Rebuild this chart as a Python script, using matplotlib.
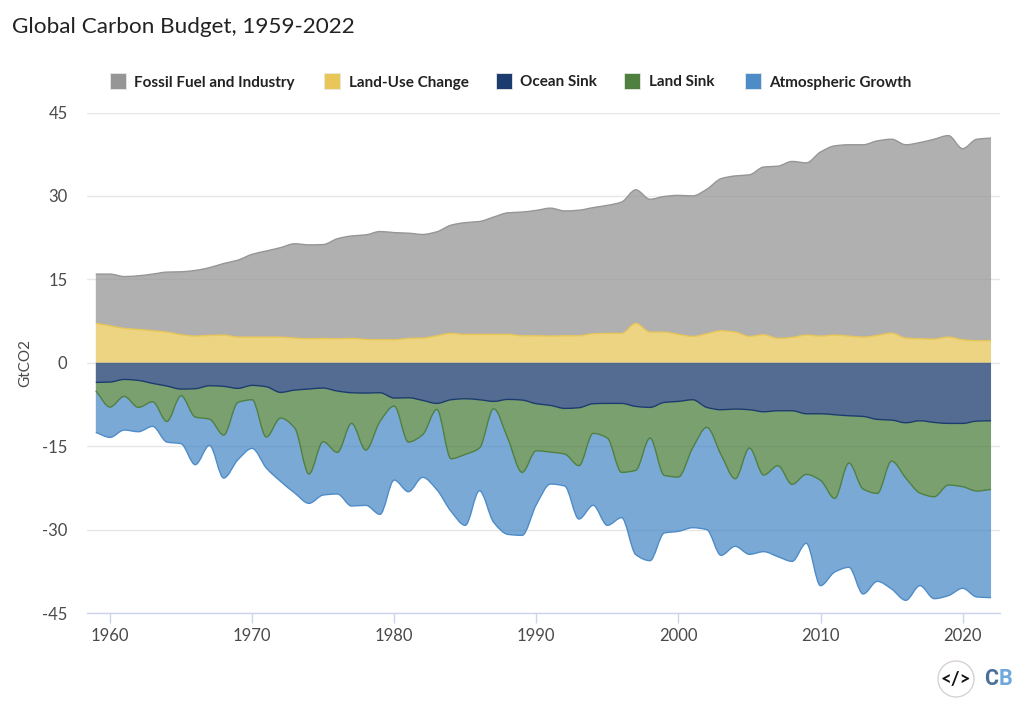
import numpy as np
import matplotlib
matplotlib.use('Agg')
import matplotlib.pyplot as plt
from matplotlib.path import Path
from matplotlib.patches import PathPatch, Rectangle, Circle

# stacked edges, GtCO2
years = list(range(1959, 2023))

fossil_top = [15.94, 15.94, 15.5, 15.64, 15.94, 16.3, 16.36, 16.6, 17.1, 17.85, 18.45, 19.5, 20.1, 20.7, 21.4, 21.2,
              21.25, 22.3, 22.8, 23.0, 23.6, 23.4, 23.3, 23.07, 23.55, 24.74, 25.2, 25.4, 26.2, 26.96, 27.1, 27.4,
              27.8, 27.3, 27.43, 27.9, 28.3, 28.9, 31.1, 29.4, 29.9, 30.1, 30.0, 31.2, 33.1, 33.6, 33.8, 35.2,
              35.35, 36.2, 35.95, 37.9, 39.0, 39.2, 39.2, 39.9, 40.2, 39.2, 39.6, 40.2, 40.85, 38.5, 40.2, 40.4]

landuse_top = [7.07, 6.65, 6.17, 5.99, 5.75, 5.51, 5.03, 4.79, 4.91, 4.97, 4.61, 4.61, 4.61, 4.61, 4.43, 4.31,
               4.37, 4.31, 4.37, 4.19, 4.13, 4.13, 4.37, 4.43, 4.85, 5.27, 5.09, 5.09, 5.09, 5.09, 4.85, 4.85,
               4.79, 4.85, 4.85, 5.21, 5.27, 5.27, 7.07, 5.51, 5.51, 5.09, 4.73, 5.21, 5.75, 5.51, 4.73, 5.03,
               4.37, 4.55, 4.97, 4.79, 4.97, 4.79, 4.61, 4.91, 5.33, 4.43, 4.31, 4.25, 4.61, 4.13, 3.95, 3.95]

ocean_edge = [-3.53, -3.47, -3.0, -3.18, -3.71, -4.19, -4.73, -4.67, -4.13, -4.25, -4.61, -4.07, -4.31, -5.33, -4.91, -4.73,
              -4.55, -5.09, -5.39, -5.45, -5.39, -6.35, -6.29, -6.77, -7.31, -6.65, -6.47, -6.65, -6.95, -6.59, -6.71, -7.37,
              -7.67, -8.21, -8.09, -7.37, -7.31, -7.31, -7.85, -8.03, -7.13, -6.95, -6.65, -8.03, -8.45, -8.33, -8.45, -8.81,
              -8.63, -8.63, -9.17, -9.17, -9.35, -9.53, -9.65, -10.19, -10.31, -10.79, -10.43, -10.73, -10.91, -10.91, -10.49, -10.43]

land_edge = [-5.03, -7.97, -6.05, -8.03, -7.01, -10.55, -5.93, -9.77, -10.13, -13.0, -7.13, -6.65, -13.36, -9.95, -11.74, -20.0,
             -14.2, -16.12, -10.9, -15.7, -10.55, -7.79, -14.26, -12.94, -8.39, -17.26, -16.48, -15.34, -8.27, -13.66, -19.71, -15.82,
             -16.06, -16.42, -18.51, -12.7, -13.54, -19.71, -19.35, -13.54, -20.25, -20.55, -15.34, -11.62, -16.54, -20.85, -15.34, -20.19,
             -18.51, -21.87, -20.07, -21.15, -24.39, -18.03, -22.71, -23.49, -17.68, -20.73, -23.43, -24.09, -21.99, -22.29, -23.07, -22.77]

atmos_edge = [-12.52, -13.42, -12.1, -12.4, -11.44, -14.26, -14.56, -18.33, -14.86, -20.73, -17.44, -15.4, -18.93, -21.33, -23.43, -25.28,
              -23.79, -23.6, -25.76, -25.64, -27.26, -21.09, -23.19, -20.61, -22.83, -26.72, -29.24, -23.01, -28.7, -30.86, -31.04, -25.52,
              -21.81, -22.17, -28.1, -25.64, -29.24, -27.86, -34.51, -35.59, -30.62, -30.32, -29.66, -30.02, -34.63, -33.01, -34.45, -33.97,
              -34.87, -35.71, -32.47, -40.08, -37.63, -36.79, -41.58, -39.31, -40.68, -42.72, -40.08, -42.42, -41.88, -40.56, -42.12, -42.24]

baseline = [0.0] * len(years)

names = ['Fossil Fuel and Industry', 'Land-Use Change', 'Ocean Sink', 'Land Sink', 'Atmospheric Growth']
colors = ['#969696', '#E8C658', '#1C3B6E', '#4F8040', '#4E8CC8']
tops = [fossil_top, landuse_top, ocean_edge, land_edge, atmos_edge]
bottoms = [landuse_top, baseline, baseline, ocean_edge, land_edge]

ytick_values = [-45, -30, -15, 0, 15, 30, 45]
xtick_values = [1960, 1970, 1980, 1990, 2000, 2010, 2020]

W, H = 1024, 706
plt.rcParams['font.family'] = ['Lato', 'DejaVu Sans']
plt.rcParams['axes.unicode_minus'] = False


# monotone bezier through the points, so peaks stay flat and do not overshoot
def curve(x, y):
    x = np.asarray(x, float)
    y = np.asarray(y, float)
    d = np.diff(y) / np.diff(x)
    m = np.zeros(len(x))
    m[0] = d[0]
    m[-1] = d[-1]
    for i in range(1, len(x) - 1):
        if d[i - 1] * d[i] > 0:
            m[i] = 2 * d[i - 1] * d[i] / (d[i - 1] + d[i])
    verts = [(x[0], y[0])]
    for i in range(len(x) - 1):
        h = (x[i + 1] - x[i]) / 3
        verts.append((x[i] + h, y[i] + m[i] * h))
        verts.append((x[i + 1] - h, y[i + 1] - m[i + 1] * h))
        verts.append((x[i + 1], y[i + 1]))
    return verts


def px_x(v):
    return v / W


def px_y(v):
    return 1 - v / H


fig = plt.figure(figsize=(W / 100, H / 100), dpi=100)
ax = fig.add_axes([px_x(87), px_y(613), (1000 - 87) / W, (613 - 112.5) / H])

for top, bottom, color in zip(tops, bottoms, colors):
    upper = curve(years, top)
    lower = curve(years, bottom)[::-1]
    verts = upper + lower + [upper[0]]
    n = len(upper)
    codes = [Path.MOVETO] + [Path.CURVE4] * (n - 1) + [Path.LINETO] + [Path.CURVE4] * (n - 1) + [Path.CLOSEPOLY]
    ax.add_patch(PathPatch(Path(verts, codes), facecolor=color, edgecolor='none', alpha=0.75, zorder=2))
    codes = [Path.MOVETO] + [Path.CURVE4] * (n - 1)
    ax.add_patch(PathPatch(Path(upper, codes), facecolor='none', edgecolor=color, lw=1.0, zorder=3))

ax.set_xlim(1958.38, 2022.63)
ax.set_ylim(-45, 45)
ax.set_yticks(ytick_values)
ax.set_xticks(xtick_values)
ax.grid(axis='y', color='#e6e6e6', lw=1, zorder=1)
ax.set_axisbelow(True)
for side in ['top', 'left', 'right']:
    ax.spines[side].set_visible(False)
ax.spines['bottom'].set_color('#ccd6eb')
ax.spines['bottom'].set_linewidth(1)
ax.tick_params(axis='y', length=0, pad=14, labelsize=12, labelcolor='#4a4a4a')
ax.tick_params(axis='x', length=7, width=1, color='#ccd6eb', pad=4, labelsize=12, labelcolor='#4a4a4a')

fig.text(px_x(25), px_y(363), 'GtCO2', rotation=90, ha='center', va='center', fontsize=11, color='#4a4a4a')
fig.text(px_x(12), px_y(27), 'Global Carbon Budget, 1959-2022', ha='left', va='center', fontsize=16.2, color='#222222')

# legend sits at fixed pixel spots in the reference
swatch_x = [110, 324, 496, 624, 745]
label_x = [134, 349, 520, 649, 769]
for name, color, sx, lx in zip(names, colors, swatch_x, label_x):
    fig.patches.append(Rectangle((px_x(sx), px_y(89)), 16 / W, 16 / H, transform=fig.transFigure,
                                 facecolor=color, edgecolor='#e8e8e8', lw=0.6, figure=fig))
    fig.text(px_x(lx), px_y(82.5), name, ha='left', va='center', fontsize=11, fontweight='bold', color='#222222')

# logo bottom right
fig.patches.append(Circle((956, H - 679), 18, transform=None, facecolor='white', edgecolor='#d9d2d2', lw=1, figure=fig))
fig.text(px_x(956), px_y(679), '</>', ha='center', va='center', fontsize=13.5, fontweight='bold', color='#111111')
fig.text(px_x(984.5), px_y(679), 'C', ha='left', va='center', fontsize=15.5, fontweight='bold', color='#4a6f9a',
         family=['Roboto', 'DejaVu Sans'])
fig.text(px_x(999), px_y(679), 'B', ha='left', va='center', fontsize=15.5, fontweight='bold', color='#6fa8dc',
         family=['Roboto', 'DejaVu Sans'])

fig.savefig('out.png', dpi=100)
